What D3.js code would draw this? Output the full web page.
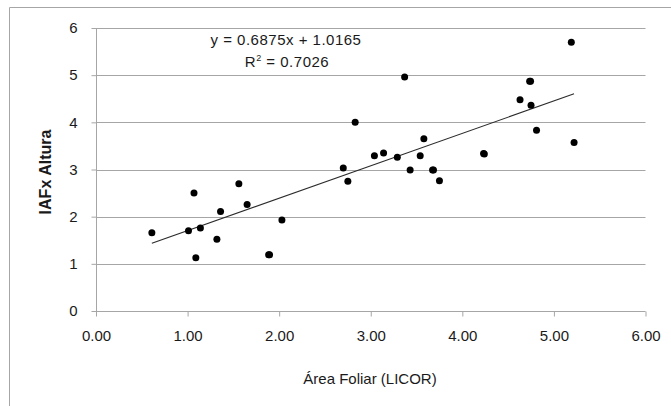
<!DOCTYPE html>
<html>
<head>
<meta charset="utf-8">
<script src="https://cdn.jsdelivr.net/npm/d3@7"></script>
<style>
  html, body { margin: 0; padding: 0; background: #fff; }
  svg { display: block; }
  text { font-family: "Liberation Sans", Arial, sans-serif; fill: #1a1a1a; }
</style>
</head>
<body>
<svg id="chart" width="671" height="406"></svg>
<script>
// Data
const areaFoliar = [0.61, 1.01, 1.07, 1.09, 1.14, 1.32, 1.36, 1.56, 1.65, 1.885, 1.895, 2.03,
  2.70, 2.75, 2.83, 3.04, 3.14, 3.29, 3.37, 3.43, 3.54, 3.58, 3.675, 3.685, 3.75,
  4.232, 4.24, 4.63, 4.735, 4.745, 4.75, 4.81, 5.19, 5.22];
const iafAltura = [1.66, 1.70, 2.50, 1.13, 1.76, 1.52, 2.11, 2.70, 2.26, 1.19, 1.19, 1.93,
  3.03, 2.75, 4.00, 3.29, 3.35, 3.26, 4.96, 2.99, 3.29, 3.65, 2.99, 2.99, 2.76,
  3.34, 3.33, 4.48, 4.87, 4.87, 4.36, 3.83, 5.70, 3.57];
const trendSlope = 0.6875;
const trendIntercept = 1.0165;
const xTicks = [0, 1, 2, 3, 4, 5, 6];
const yTicks = [0, 1, 2, 3, 4, 5, 6];
const eqLabel = "y = 0.6875x + 1.0165";
const r2Label = "0.7026";
const xTitle = "Área Foliar (LICOR)";
const yTitle = "IAFx Altura";

const svg = d3.select("#chart");
const W = 671, H = 406;
const mLeft = 96, mRight = 645.5, mTop = 28, mBottom = 311;

// outer chart border (left and top visible)
svg.append("path")
  .attr("d", `M9.5,${H} V7.5 H${W}`)
  .attr("fill", "none").attr("stroke", "#a6a6a6").attr("stroke-width", 1);

const x = d3.scaleLinear().domain([0, 6]).range([mLeft, mRight]);
const y = d3.scaleLinear().domain([0, 6]).range([mBottom, mTop]);

// horizontal gridlines
svg.append("g").selectAll("line").data(yTicks.filter(d => d > 0)).join("line")
  .attr("x1", mLeft).attr("x2", mRight)
  .attr("y1", d => Math.round(y(d)) + 0.5).attr("y2", d => Math.round(y(d)) + 0.5)
  .attr("stroke", "#a6a6a6").attr("stroke-width", 1);

// X axis
const xAxis = svg.append("g").attr("transform", `translate(0,${Math.round(mBottom) + 0.5})`)
  .call(d3.axisBottom(x).tickValues(xTicks).tickSize(5).tickPadding(14).tickFormat(d3.format(".2f")));
xAxis.select(".domain").attr("stroke", "#a6a6a6").attr("d", `M${mLeft},0H${mRight}`);
xAxis.selectAll(".tick line").attr("stroke", "#a6a6a6");
xAxis.selectAll(".tick text").attr("font-size", 15).attr("font-family", "Liberation Sans, Arial, sans-serif").attr("fill", "#1a1a1a");

// Y axis
const yAxis = svg.append("g").attr("transform", `translate(${Math.round(mLeft) + 0.5},0)`)
  .call(d3.axisLeft(y).tickValues(yTicks).tickSize(5).tickPadding(14).tickFormat(d3.format("d")));
yAxis.select(".domain").attr("stroke", "#a6a6a6").attr("d", `M0,${mTop}V${mBottom}`);
yAxis.selectAll(".tick line").attr("stroke", "#a6a6a6");
yAxis.selectAll(".tick text").attr("font-size", 15).attr("font-family", "Liberation Sans, Arial, sans-serif").attr("fill", "#1a1a1a");

// trendline
const xMin = d3.min(areaFoliar), xMax = d3.max(areaFoliar);
svg.append("line")
  .attr("x1", x(xMin)).attr("y1", y(trendSlope * xMin + trendIntercept))
  .attr("x2", x(xMax)).attr("y2", y(trendSlope * xMax + trendIntercept))
  .attr("stroke", "#2b2b2b").attr("stroke-width", 1.1);

// points
svg.append("g").selectAll("circle").data(areaFoliar.map((v, i) => [v, iafAltura[i]])).join("circle")
  .attr("cx", d => x(d[0])).attr("cy", d => y(d[1])).attr("r", 3.5)
  .attr("fill", "#000");

// equation labels
svg.append("text").attr("x", 286).attr("y", 45).attr("text-anchor", "middle")
  .attr("font-size", 15).attr("letter-spacing", 0.5).text(eqLabel);
const r2 = svg.append("text").attr("x", 287).attr("y", 67).attr("text-anchor", "middle")
  .attr("font-size", 15).attr("letter-spacing", 0.5);
r2.append("tspan").text("R");
r2.append("tspan").attr("font-size", 9).attr("dy", -6).text("2");
r2.append("tspan").attr("dy", 6).text(" = " + r2Label);

// axis titles
svg.append("text").attr("x", 370).attr("y", 384).attr("text-anchor", "middle")
  .attr("font-size", 15).text(xTitle);
svg.append("text").attr("transform", "translate(51,172) rotate(-90)").attr("text-anchor", "middle")
  .attr("font-size", 16).attr("font-weight", "bold").text(yTitle);
</script>
</body>
</html>
